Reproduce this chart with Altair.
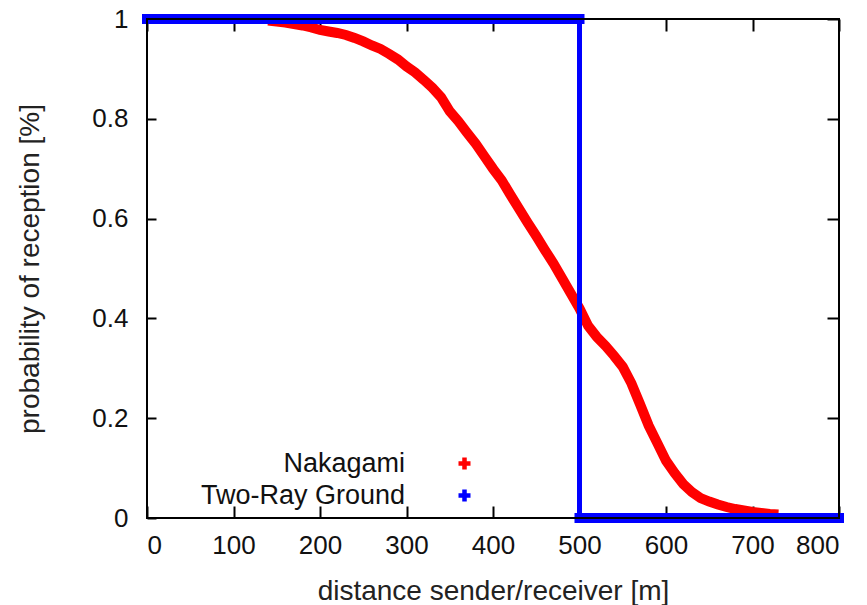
import altair as alt
import pandas as pd

# ---- data ----
nak_dist = [140, 150, 160, 170, 180, 190, 200, 210, 220, 230, 240, 250, 260, 270, 280,
            290, 300, 310, 320, 330, 340, 350, 360, 370, 380, 390, 400, 410, 420, 430,
            440, 450, 460, 470, 480, 490, 500, 510, 520, 530, 540, 550, 560, 570, 580,
            590, 600, 610, 620, 630, 640, 650, 660, 670, 680, 690, 700, 710, 720, 730]
nak_prob = [0.997, 0.995, 0.993, 0.990, 0.987, 0.983, 0.978, 0.975, 0.972, 0.968,
            0.962, 0.955, 0.947, 0.940, 0.930, 0.919, 0.905, 0.893, 0.878, 0.862,
            0.843, 0.815, 0.795, 0.772, 0.750, 0.725, 0.700, 0.677, 0.648, 0.620,
            0.592, 0.565, 0.537, 0.510, 0.480, 0.450, 0.420, 0.385, 0.363, 0.345,
            0.325, 0.303, 0.270, 0.228, 0.185, 0.150, 0.115, 0.090, 0.068, 0.052,
            0.040, 0.033, 0.027, 0.022, 0.018, 0.015, 0.012, 0.010, 0.008, 0.007]

# Two-Ray Ground: step at 500 m
tr_h_start = [0, 500]
tr_h_end = [500, 800]
tr_h_level = [1, 0]
tr_v_pos = [500]
tr_v_top = [1]
tr_v_bottom = [0]

series_names = ["Nakagami", "Two-Ray Ground"]
series_colors = ["#ff0000", "#0000ff"]

x_ticks = [0, 100, 200, 300, 400, 500, 600, 700, 800]
y_ticks = [0, 0.2, 0.4, 0.6, 0.8, 1]
x_domain = [0, 800]
y_domain = [0, 1]

FONT = "Liberation Sans"

# gnuplot-style key: sample "+" drawn to the right of the right-aligned label
KEY_CROSS = "M13.7,-0.15H14.45V-0.9H14.75V-0.15H15.5V0.15H14.75V0.9H14.45V0.15H13.7Z"

nak_df = pd.DataFrame({"d": nak_dist, "p": nak_prob, "series": series_names[0]})
trh_df = pd.DataFrame({"x": tr_h_start, "x2": tr_h_end, "y": tr_h_level, "series": series_names[1]})
trv_df = pd.DataFrame({"x": tr_v_pos, "y": tr_v_top, "y2": tr_v_bottom, "series": series_names[1]})
frame_df = pd.DataFrame({"x0": [x_domain[0]], "x1": [x_domain[1]], "y0": [y_domain[0]], "y1": [y_domain[1]]})

xs = alt.Scale(domain=x_domain, nice=False, zero=False)
ys = alt.Scale(domain=y_domain, nice=False, zero=False)
cs = alt.Scale(domain=series_names, range=series_colors)

common_axis = dict(labelFont=FONT, titleFont=FONT, labelFontSize=26, titleFontSize=28,
                   labelColor="#111111", titleColor="#222222", titleFontWeight="normal",
                   tickColor="black", tickWidth=2, domain=False, grid=False, zindex=0)

legend = alt.Legend(orient="none", legendX=94, legendY=431, title=None,
                    symbolType=KEY_CROSS, symbolSize=100, symbolStrokeWidth=3,
                    labelFont=FONT, labelFontSize=27, labelColor="#111111",
                    labelAlign="right", labelOffset=0, symbolOffset=137,
                    labelLimit=500, rowPadding=4, padding=0)

red = alt.Chart(nak_df).mark_line(strokeWidth=10, clip=False).encode(
    x=alt.X("d:Q", scale=xs, axis=alt.Axis(orient="bottom", values=x_ticks, format="d",
            title="distance sender/receiver [m]", tickSize=12, offset=-12,
            labelPadding=14, titlePadding=19, **common_axis)),
    y=alt.Y("p:Q", scale=ys, axis=alt.Axis(orient="left", values=y_ticks, format="~g",
            title="probability of reception [%]", tickSize=9, offset=-9,
            labelPadding=19, titlePadding=47, **common_axis)),
    color=alt.Color("series:N", scale=cs, legend=legend),
)

blue_h = alt.Chart(trh_df).mark_rule(strokeWidth=10, strokeCap="square", clip=False).encode(
    x=alt.X("x:Q", scale=xs, axis=None),
    x2="x2:Q",
    y=alt.Y("y:Q", scale=ys, axis=None),
    color=alt.Color("series:N", scale=cs, legend=legend),
)

blue_v = alt.Chart(trv_df).mark_rule(strokeWidth=5, clip=False).encode(
    x=alt.X("x:Q", scale=xs, axis=None),
    y=alt.Y("y:Q", scale=ys, axis=None),
    y2="y2:Q",
    color=alt.Color("series:N", scale=cs, legend=legend),
)

frame = alt.Chart(frame_df).mark_rect(fillOpacity=0, stroke="black", strokeWidth=2, clip=False).encode(
    x=alt.X("x0:Q", scale=xs, axis=alt.Axis(orient="top", values=x_ticks, labels=False, title=None,
            tickSize=12, offset=-12, **common_axis)),
    x2="x1:Q",
    y=alt.Y("y0:Q", scale=ys, axis=alt.Axis(orient="right", values=y_ticks, labels=False, title=None,
            tickSize=12, offset=-12, **common_axis)),
    y2="y1:Q",
)

chart = alt.layer(red, blue_h, blue_v, frame).resolve_axis(
    x="independent", y="independent"
).properties(
    width=692, height=499,
    autosize=alt.AutoSizeParams(type="none"),
    padding={"left": 139, "top": 11, "right": 20, "bottom": 87},
    background="white",
).configure_view(stroke=None)

chart.save("out.html", embed_options={"renderer": "svg", "actions": False})
